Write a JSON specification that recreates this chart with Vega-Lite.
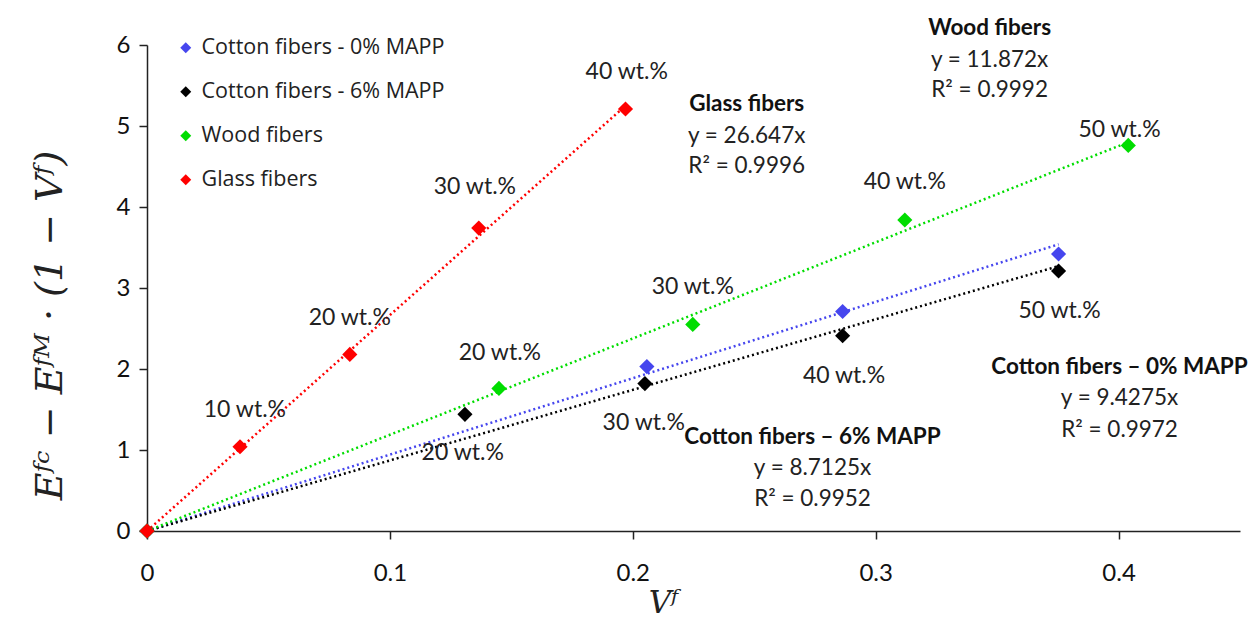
{
  "$schema": "https://vega.github.io/schema/vega-lite/v6.json",
  "width": 1093,
  "height": 486,
  "autosize": {"type": "none"},
  "padding": {"left": 147, "top": 45, "right": 15, "bottom": 97},
  "background": "white",
  "config": {
    "view": {"stroke": null},
    "axis": {"grid": false, "domainColor": "#222", "domainWidth": 1.5, "tickColor": "#222", "tickWidth": 1.5, "tickSize": 8, "labelFont": "Lato", "labelFontSize": 24, "labelColor": "#111", "titleColor": "#222", "labelFlush": false},
    "legend": {"title": null, "orient": "none", "legendX": 28, "legendY": -8, "symbolType": "diamond", "symbolSize": 120, "symbolOpacity": 1, "symbolStrokeWidth": 0, "labelFont": "Open Sans", "labelFontSize": 21.5, "labelColor": "#222", "rowPadding": 21, "labelOffset": 5, "labelLimit": 400, "padding": 0}
  },
  "datasets": {
    "pts": [
      {"series": "Cotton fibers - 0% MAPP", "x": 0, "y": 0},
      {"series": "Cotton fibers - 0% MAPP", "x": 0.2058, "y": 2.03},
      {"series": "Cotton fibers - 0% MAPP", "x": 0.2864, "y": 2.71},
      {"series": "Cotton fibers - 0% MAPP", "x": 0.3753, "y": 3.42},
      {"series": "Cotton fibers - 6% MAPP", "x": 0, "y": 0},
      {"series": "Cotton fibers - 6% MAPP", "x": 0.1309, "y": 1.44},
      {"series": "Cotton fibers - 6% MAPP", "x": 0.205, "y": 1.82},
      {"series": "Cotton fibers - 6% MAPP", "x": 0.2864, "y": 2.41},
      {"series": "Cotton fibers - 6% MAPP", "x": 0.3753, "y": 3.21},
      {"series": "Wood fibers", "x": 0, "y": 0},
      {"series": "Wood fibers", "x": 0.1449, "y": 1.76},
      {"series": "Wood fibers", "x": 0.2247, "y": 2.55},
      {"series": "Wood fibers", "x": 0.312, "y": 3.84},
      {"series": "Wood fibers", "x": 0.404, "y": 4.76},
      {"series": "Glass fibers", "x": 0, "y": 0},
      {"series": "Glass fibers", "x": 0.0383, "y": 1.04},
      {"series": "Glass fibers", "x": 0.0835, "y": 2.18},
      {"series": "Glass fibers", "x": 0.1366, "y": 3.74},
      {"series": "Glass fibers", "x": 0.197, "y": 5.21}
    ],
    "trend": [
      {"series": "Cotton fibers - 0% MAPP", "x": 0, "y": 0},
      {"series": "Cotton fibers - 0% MAPP", "x": 0.3753, "y": 3.54},
      {"series": "Cotton fibers - 6% MAPP", "x": 0, "y": 0},
      {"series": "Cotton fibers - 6% MAPP", "x": 0.3753, "y": 3.27},
      {"series": "Wood fibers", "x": 0, "y": 0},
      {"series": "Wood fibers", "x": 0.404, "y": 4.8},
      {"series": "Glass fibers", "x": 0, "y": 0},
      {"series": "Glass fibers", "x": 0.197, "y": 5.25}
    ],
    "labels": [
      {"x": 0.0403, "y": 1.49, "text": "10 wt.%"},
      {"x": 0.0835, "y": 2.63, "text": "20 wt.%"},
      {"x": 0.135, "y": 4.25, "text": "30 wt.%"},
      {"x": 0.1975, "y": 5.67, "text": "40 wt.%"},
      {"x": 0.1453, "y": 2.2, "text": "20 wt.%"},
      {"x": 0.2247, "y": 3.01, "text": "30 wt.%"},
      {"x": 0.312, "y": 4.31, "text": "40 wt.%"},
      {"x": 0.4004, "y": 4.95, "text": "50 wt.%"},
      {"x": 0.13, "y": 0.96, "text": "20 wt.%"},
      {"x": 0.2045, "y": 1.33, "text": "30 wt.%"},
      {"x": 0.287, "y": 1.91, "text": "40 wt.%"},
      {"x": 0.3757, "y": 2.72, "text": "50 wt.%"}
    ],
    "eqtitles": [
      {"x": 0.2469, "y": 5.27, "text": "Glass fibers"},
      {"x": 0.3469, "y": 6.21, "text": "Wood fibers"},
      {"x": 0.4004, "y": 2.02, "text": "Cotton fibers – 0% MAPP"},
      {"x": 0.274, "y": 1.16, "text": "Cotton fibers – 6% MAPP"}
    ],
    "eqs": [
      {"x": 0.2469, "y": 4.88, "text": "y = 26.647x"},
      {"x": 0.2469, "y": 4.51, "text": "R² = 0.9996"},
      {"x": 0.3469, "y": 5.81, "text": "y = 11.872x"},
      {"x": 0.3469, "y": 5.44, "text": "R² = 0.9992"},
      {"x": 0.4004, "y": 1.64, "text": "y = 9.4275x"},
      {"x": 0.4004, "y": 1.25, "text": "R² = 0.9972"},
      {"x": 0.274, "y": 0.78, "text": "y = 8.7125x"},
      {"x": 0.274, "y": 0.4, "text": "R² = 0.9952"}
    ]
  },
  "layer": [
    {
      "data": {"name": "trend"},
      "mark": {"type": "line", "strokeDash": [2, 3], "strokeWidth": 2.5, "strokeCap": "butt"},
      "encoding": {
        "x": {"field": "x", "type": "quantitative", "scale": {"domain": [0, 0.45], "nice": false},
          "axis": {"values": [0, 0.1, 0.2, 0.3, 0.4], "format": "~g", "labelPadding": 22, "title": "Vᶠ", "titleFont": "DejaVu Serif", "titleFontStyle": "italic", "titleFontWeight": "normal", "titleFontSize": 31, "titlePadding": 3, "titleX": 516}},
        "y": {"field": "y", "type": "quantitative", "scale": {"domain": [0, 6], "nice": false},
          "axis": {"values": [0, 1, 2, 3, 4, 5, 6], "format": "d", "labelPadding": 9, "title": "Eᶠᶜ − Eᶠᴹ · (1 − Vᶠ)", "titleFont": "DejaVu Serif", "titleFontStyle": "italic", "titleFontWeight": "normal", "titleFontSize": 38, "titlePadding": 47, "titleY": 280}},
        "color": {"field": "series", "type": "nominal",
          "scale": {"domain": ["Cotton fibers - 0% MAPP", "Cotton fibers - 6% MAPP", "Wood fibers", "Glass fibers"], "range": ["#4646ee", "#000000", "#00dd00", "#ff0000"]}},
        "detail": {"field": "series"}
      }
    },
    {
      "data": {"name": "pts"},
      "mark": {"type": "point", "shape": "diamond", "filled": true, "size": 230, "opacity": 1},
      "encoding": {
        "x": {"field": "x", "type": "quantitative"},
        "y": {"field": "y", "type": "quantitative"},
        "color": {"field": "series", "type": "nominal",
          "scale": {"domain": ["Cotton fibers - 0% MAPP", "Cotton fibers - 6% MAPP", "Wood fibers", "Glass fibers"], "range": ["#4646ee", "#000000", "#00dd00", "#ff0000"]}}
      }
    },
    {
      "data": {"name": "labels"},
      "mark": {"type": "text", "font": "Lato", "fontSize": 23, "color": "#222", "align": "center", "baseline": "middle"},
      "encoding": {
        "x": {"field": "x", "type": "quantitative"},
        "y": {"field": "y", "type": "quantitative"},
        "text": {"field": "text"}
      }
    },
    {
      "data": {"name": "eqtitles"},
      "mark": {"type": "text", "font": "Lato", "fontSize": 22.5, "fontWeight": "bold", "color": "#111", "align": "center", "baseline": "middle"},
      "encoding": {
        "x": {"field": "x", "type": "quantitative"},
        "y": {"field": "y", "type": "quantitative"},
        "text": {"field": "text"}
      }
    },
    {
      "data": {"name": "eqs"},
      "mark": {"type": "text", "font": "Lato", "fontSize": 22.5, "color": "#222", "align": "center", "baseline": "middle"},
      "encoding": {
        "x": {"field": "x", "type": "quantitative"},
        "y": {"field": "y", "type": "quantitative"},
        "text": {"field": "text"}
      }
    }
  ]
}
